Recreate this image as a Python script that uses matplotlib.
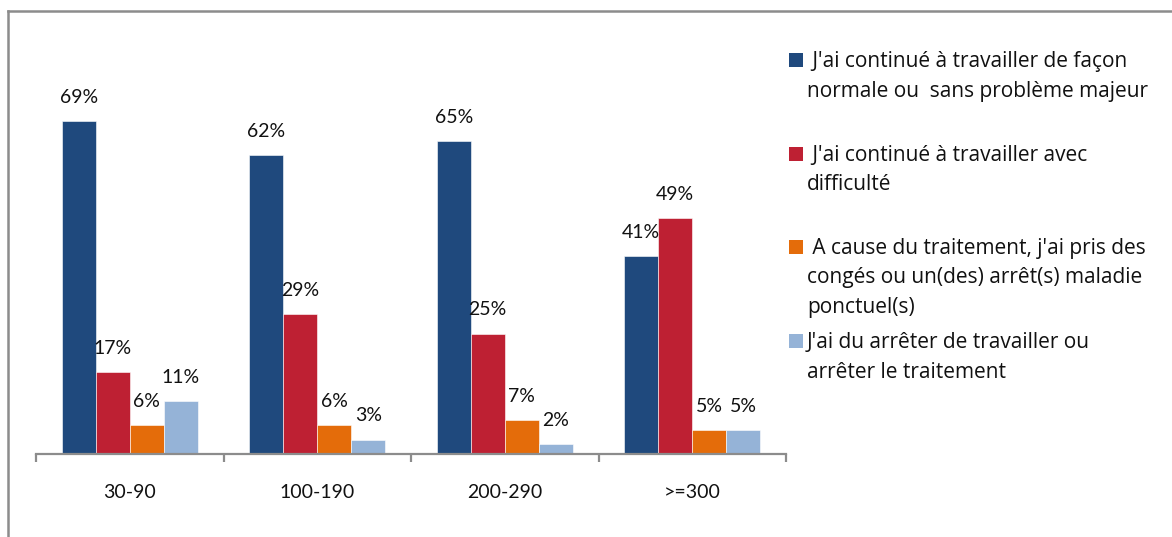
import matplotlib
matplotlib.use("Agg")
import matplotlib.pyplot as plt
import numpy as np
from matplotlib.lines import Line2D
from matplotlib.patches import Rectangle

plt.rcParams["font.family"] = ["Lato", "DejaVu Sans"]

W, H = 1172, 537

categories = ["30-90", "100-190", "200-290", ">=300"]
normal = [69, 62, 65, 41]
difficulte = [17, 29, 25, 49]
conges = [6, 6, 7, 5]
arret = [11, 3, 2, 5]

series_labels = [
    " J'ai continué à travailler de façon\nnormale ou  sans problème majeur",
    " J'ai continué à travailler avec\ndifficulté",
    " A cause du traitement, j'ai pris des\ncongés ou un(des) arrêt(s) maladie\nponctuel(s)",
    "J'ai du arrêter de travailler ou\narrêter le traitement",
]
colors = ["#1F497D", "#BE2033", "#E46C0A", "#95B3D7"]


def fx(px):
    return px / W


def fy(py):
    return 1 - py / H


fig = plt.figure(figsize=(W / 100, H / 100), dpi=100)

# outer frame (left and top only, the chart is cropped)
fig.add_artist(Line2D([fx(8), fx(8)], [0, fy(11)], color="#8C8C8C", lw=1.8))
fig.add_artist(Line2D([fx(8), 1], [fy(11), fy(11)], color="#8C8C8C", lw=1.8))

ax = fig.add_axes([fx(36), fy(454), fx(786) - fx(36), (454 - 30) / H])
ax.set_xlim(-0.5, len(categories) - 0.5)
ax.set_ylim(0, 424 / 4.82)

data = [normal, difficulte, conges, arret]
x = np.arange(len(categories))
bw = 0.725 / 4
for i, (vals, col) in enumerate(zip(data, colors)):
    pos = x + (i - 1.5) * bw
    ax.bar(pos, vals, width=bw, color=col, edgecolor="white", linewidth=0.4, zorder=2)
    for xp, v in zip(pos, vals):
        ax.annotate("%d%%" % v, (xp, v), xytext=(0, 17), textcoords="offset points",
                    ha="center", va="center", fontsize=14, color="#111111")

for side in ("left", "right", "top"):
    ax.spines[side].set_visible(False)
ax.spines["bottom"].set_color("#8C8C8C")
ax.spines["bottom"].set_linewidth(1.6)
ax.set_yticks([])
ax.set_xticks(np.arange(len(categories) + 1) - 0.5)
ax.set_xticklabels([])
ax.tick_params(axis="x", length=6, width=1.6, color="#8C8C8C")
for xi, c in zip(x, categories):
    ax.text(xi, -8.0, c, ha="center", va="center", fontsize=14, color="#111111")

# legend, drawn line by line
marker_y = [60, 154, 247, 341]
for lab, col, my in zip(series_labels, colors, marker_y):
    fig.add_artist(Rectangle((fx(789), fy(my + 7)), fx(14), 14 / H,
                             facecolor=col, edgecolor="none"))
    for k, line in enumerate(lab.split("\n")):
        fig.text(fx(807), fy(my + 7 + 29.5 * k), line, ha="left", va="baseline",
                 fontsize=15, family=["Open Sans", "DejaVu Sans"], color="#111111")

fig.savefig("out.png", dpi=100)
